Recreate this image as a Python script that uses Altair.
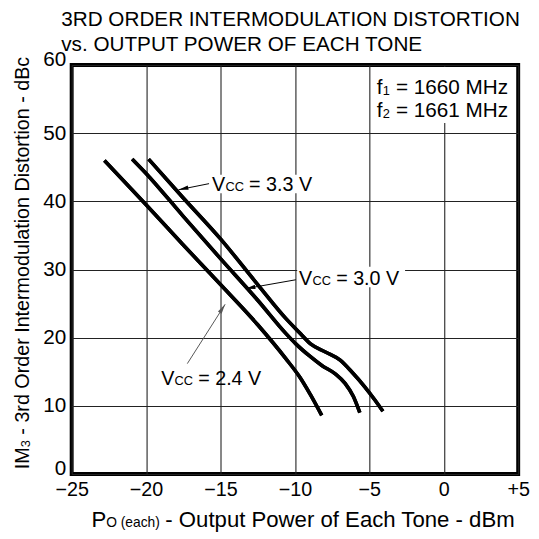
import altair as alt
import pandas as pd

FONT = "Liberation Sans"

# ---- curve data (Po each, dBm  ->  IM3, dBc) ----
x_24 = [-22.8, -21.5, -20.0, -17.5, -15.0, -12.5, -10.6, -9.7, -8.95, -8.2]
y_24 = [46.0, 43.0, 39.5, 33.6, 27.8, 21.9, 16.9, 14.3, 11.6, 8.6]

x_30 = [-20.93, -20.0, -17.5, -15.0, -12.5, -10.6, -9.94, -9.06, -8.17, -7.29, -6.63, -6.08, -5.64]
y_30 = [46.2, 44.1, 37.8, 31.6, 25.5, 20.6, 19.1, 17.4, 15.9, 14.7, 13.3, 11.4, 9.0]

x_33 = [-19.83, -17.5, -15.0, -12.5, -10.6, -9.72, -8.95, -7.95, -6.96, -6.19, -5.31, -4.64, -4.09]
y_33 = [46.2, 40.5, 34.5, 27.8, 22.8, 20.8, 19.1, 17.9, 16.7, 15.0, 12.8, 10.9, 9.2]

series_names = ["2.4 V", "3.0 V", "3.3 V"]

# ---- axis ticks ----
x_ticks = [-25, -20, -15, -10, -5, 0, 5]
y_ticks = [0, 10, 20, 30, 40, 50, 60]

# ---- annotations ----
ann_tail = ["= 3.3 V", "= 3.0 V", "= 2.4 V"]
ann_x = [-15.57, -9.72, -18.99]
ann_y = [41.5, 27.7, 13.05]
lead_x1 = [-15.77, -9.94, -17.23]
lead_y1 = [42.6, 28.5, 16.2]
lead_x2 = [-17.82, -13.32, -14.69]
lead_y2 = [41.7, 27.2, 24.9]
arrow_angle = [258, 260, 33]
lead_color = ["#000000", "#000000", "#555555"]

box_x1 = [-15.75, -9.85, -4.8]
box_x2 = [-8.6, -2.6, 4.8]
box_y1 = [41.2, 27.4, 51.5]
box_y2 = [43.9, 30.4, 59.7]

freq_sub = ["1", "2"]
freq_tail = ["= 1660 MHz", "= 1661 MHz"]
freq_x = [-4.5, -4.5]
freq_y = [55.8, 52.4]

title_lines = ["3RD ORDER INTERMODULATION DISTORTION", "vs. OUTPUT POWER OF EACH TONE"]

# ---- tables ----
curves = pd.concat([
    pd.DataFrame({"x": x_24, "y": y_24, "s": series_names[0]}),
    pd.DataFrame({"x": x_30, "y": y_30, "s": series_names[1]}),
    pd.DataFrame({"x": x_33, "y": y_33, "s": series_names[2]}),
], ignore_index=True)

ann = pd.DataFrame({"x": ann_x, "y": ann_y, "head": "V", "sub": "CC", "tail": ann_tail})
leads = pd.DataFrame({"x1": lead_x1, "y1": lead_y1, "x2": lead_x2, "y2": lead_y2,
                      "ang": arrow_angle, "col": lead_color})
boxes = pd.DataFrame({"x1": box_x1, "x2": box_x2, "y1": box_y1, "y2": box_y2})
freqs = pd.DataFrame({"x": freq_x, "y": freq_y, "head": "f", "sub": freq_sub, "tail": freq_tail})
one = pd.DataFrame({"a": [0]})

xscale = alt.Scale(domain=[-25, 5], nice=False, zero=False)
yscale = alt.Scale(domain=[0, 60], nice=False, zero=False)

x_lbl = "datum.value < 0 ? '\u2212' + abs(datum.value) : (datum.value > 0 ? '+' + datum.value : '0')"

xaxis = alt.Axis(values=x_ticks, labelExpr=x_lbl, title=None, grid=True, ticks=False, domain=False,
                 labelFontSize=20, labelFont=FONT, labelColor="black", labelPadding=6,
                 labelFlush=False, gridColor="#222222", gridWidth=1.1)
yaxis = alt.Axis(values=y_ticks, title=None, grid=True, ticks=False, domain=False,
                 labelFontSize=21, labelFont=FONT, labelColor="black", labelPadding=6,
                 labelFlush=False, gridColor="#222222", gridWidth=1.1,
                 labelBaseline={"condition": {"test": "datum.value == 0 || datum.value == 60",
                                              "value": "alphabetic"}, "value": "middle"})

lines = alt.Chart(curves).mark_line(color="black", strokeWidth=3.6, interpolate="monotone").encode(
    x=alt.X("x:Q", scale=xscale, axis=xaxis),
    y=alt.Y("y:Q", scale=yscale, axis=yaxis),
    detail="s:N",
)

rects = alt.Chart(boxes).mark_rect(color="white").encode(
    x=alt.X("x1:Q", scale=xscale), x2="x2:Q",
    y=alt.Y("y1:Q", scale=yscale), y2="y2:Q",
)

rules = alt.Chart(leads).mark_rule(strokeWidth=1).encode(
    x=alt.X("x1:Q", scale=xscale), x2="x2:Q",
    y=alt.Y("y1:Q", scale=yscale), y2="y2:Q",
    color=alt.Color("col:N", scale=None),
)

heads = alt.Chart(leads).mark_point(shape="M0,0L0.22,1L-0.22,1Z", filled=True, size=400,
                                    opacity=1).encode(
    x=alt.X("x2:Q", scale=xscale), y=alt.Y("y2:Q", scale=yscale),
    angle=alt.Angle("ang:Q", scale=None),
    color=alt.Color("col:N", scale=None),
)

def piece(df, field, size, dx=0, dy=0):
    return alt.Chart(df).mark_text(align="left", baseline="alphabetic", font=FONT, fontSize=size,
                                   color="black", dx=dx, dy=dy).encode(
        x=alt.X("x:Q", scale=xscale), y=alt.Y("y:Q", scale=yscale), text=f"{field}:N")

ann_txt = piece(ann, "head", 20) + piece(ann, "sub", 13, dx=13.6) + piece(ann, "tail", 20, dx=37.6)
freq_txt = piece(freqs, "head", 21) + piece(freqs, "sub", 13, dx=6.0, dy=1) + piece(freqs, "tail", 21, dx=19.4)

def ptext(txt, x, y, size, angle=0):
    kw = dict(align="left", baseline="alphabetic", font=FONT, fontSize=size, color="black", text=txt)
    if angle:
        kw["angle"] = angle
    return alt.Chart(one).mark_text(**kw).encode(x=alt.value(x), y=alt.value(y))

titles = ptext(title_lines[0], -10.6, -39.5, 21) + ptext(title_lines[1], -10.6, -14.5, 21)

xtitle = (ptext("P", 20.0, 469, 22.5) + ptext("O (each)", 35.0, 469, 14)
          + ptext("- Output Power of Each Tone - dBm", 95.0, 469, 22.5))

ytitle = (ptext("IM", -43.6, 410, 20, angle=270) + ptext("3", -42.0, 387.8, 13, angle=270)
          + ptext("- 3rd Order Intermodulation Distortion - dBc", -43.6, 375.0, 20, angle=270))

chart = alt.layer(lines, rects, lines, rules, heads, ann_txt, freq_txt, titles, xtitle, ytitle).properties(
    width=453, height=415,
    autosize=alt.AutoSizeParams(type="none"),
    padding={"left": 64.6, "top": 54, "right": 13, "bottom": 60},
).configure_view(stroke="black", strokeWidth=4)

chart.save("out.html", embed_options={"renderer": "svg", "actions": False})
